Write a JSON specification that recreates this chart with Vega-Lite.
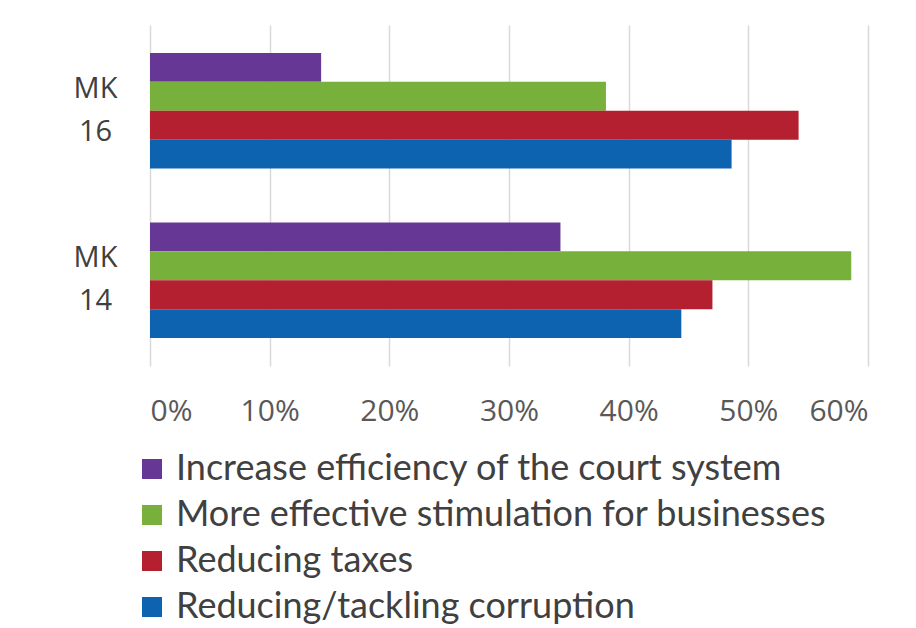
{
  "$schema": "https://vega.github.io/schema/vega-lite/v6.json",
  "autosize": "none",
  "width": 718,
  "height": 341,
  "padding": {"left": 150, "top": 25, "right": 48, "bottom": 262},
  "background": "white",
  "data": {
    "values": [
      {"group": "MK 16", "series": "Increase efficiency of the court system", "value": 0.143},
      {"group": "MK 16", "series": "More effective stimulation for businesses", "value": 0.381},
      {"group": "MK 16", "series": "Reducing taxes", "value": 0.542},
      {"group": "MK 16", "series": "Reducing/tackling corruption", "value": 0.486},
      {"group": "MK 14", "series": "Increase efficiency of the court system", "value": 0.343},
      {"group": "MK 14", "series": "More effective stimulation for businesses", "value": 0.586},
      {"group": "MK 14", "series": "Reducing taxes", "value": 0.470},
      {"group": "MK 14", "series": "Reducing/tackling corruption", "value": 0.444}
    ]
  },
  "mark": {"type": "bar"},
  "encoding": {
    "y": {
      "field": "group",
      "type": "nominal",
      "sort": ["MK 16", "MK 14"],
      "scale": {"paddingInner": 0.318, "paddingOuter": 0.165},
      "axis": {
        "title": null,
        "domain": false,
        "ticks": false,
        "labelExpr": "split(datum.label, ' ')",
        "labelAlign": "center",
        "labelBaseline": "middle",
        "labelPadding": 55,
        "labelOffset": -22,
        "labelFont": "Open Sans",
        "labelFontSize": 29,
        "labelLineHeight": 43,
        "labelColor": "#404040"
      }
    },
    "yOffset": {
      "field": "series",
      "type": "nominal",
      "sort": [
        "Increase efficiency of the court system",
        "More effective stimulation for businesses",
        "Reducing taxes",
        "Reducing/tackling corruption"
      ],
      "scale": {"paddingInner": 0, "paddingOuter": 0}
    },
    "x": {
      "field": "value",
      "type": "quantitative",
      "scale": {"domain": [0, 0.6], "nice": false},
      "axis": {
        "title": null,
        "format": ".0%",
        "values": [0, 0.1, 0.2, 0.3, 0.4, 0.5, 0.6],
        "domain": false,
        "ticks": false,
        "grid": true,
        "gridColor": "#d9d9d9",
        "gridWidth": 1.5,
        "labelPadding": 45,
        "labelBaseline": "middle",
        "labelFont": "Open Sans",
        "labelFontSize": 30,
        "labelColor": "#595959"
      }
    },
    "color": {
      "field": "series",
      "type": "nominal",
      "sort": [
        "Increase efficiency of the court system",
        "More effective stimulation for businesses",
        "Reducing taxes",
        "Reducing/tackling corruption"
      ],
      "scale": {"range": ["#663795", "#77b03a", "#b52030", "#0d63b0"]},
      "legend": {
        "title": null,
        "orient": "none",
        "legendX": -16,
        "legendY": 426,
        "direction": "vertical",
        "symbolType": "square",
        "symbolSize": 400,
        "symbolStrokeWidth": 0,
        "symbolOpacity": 1,
        "labelFont": "Lato",
        "labelFontSize": 36,
        "labelColor": "#404040",
        "labelOffset": 6,
        "rowPadding": 10,
        "labelLimit": 800
      }
    }
  },
  "config": {"view": {"stroke": null}}
}
